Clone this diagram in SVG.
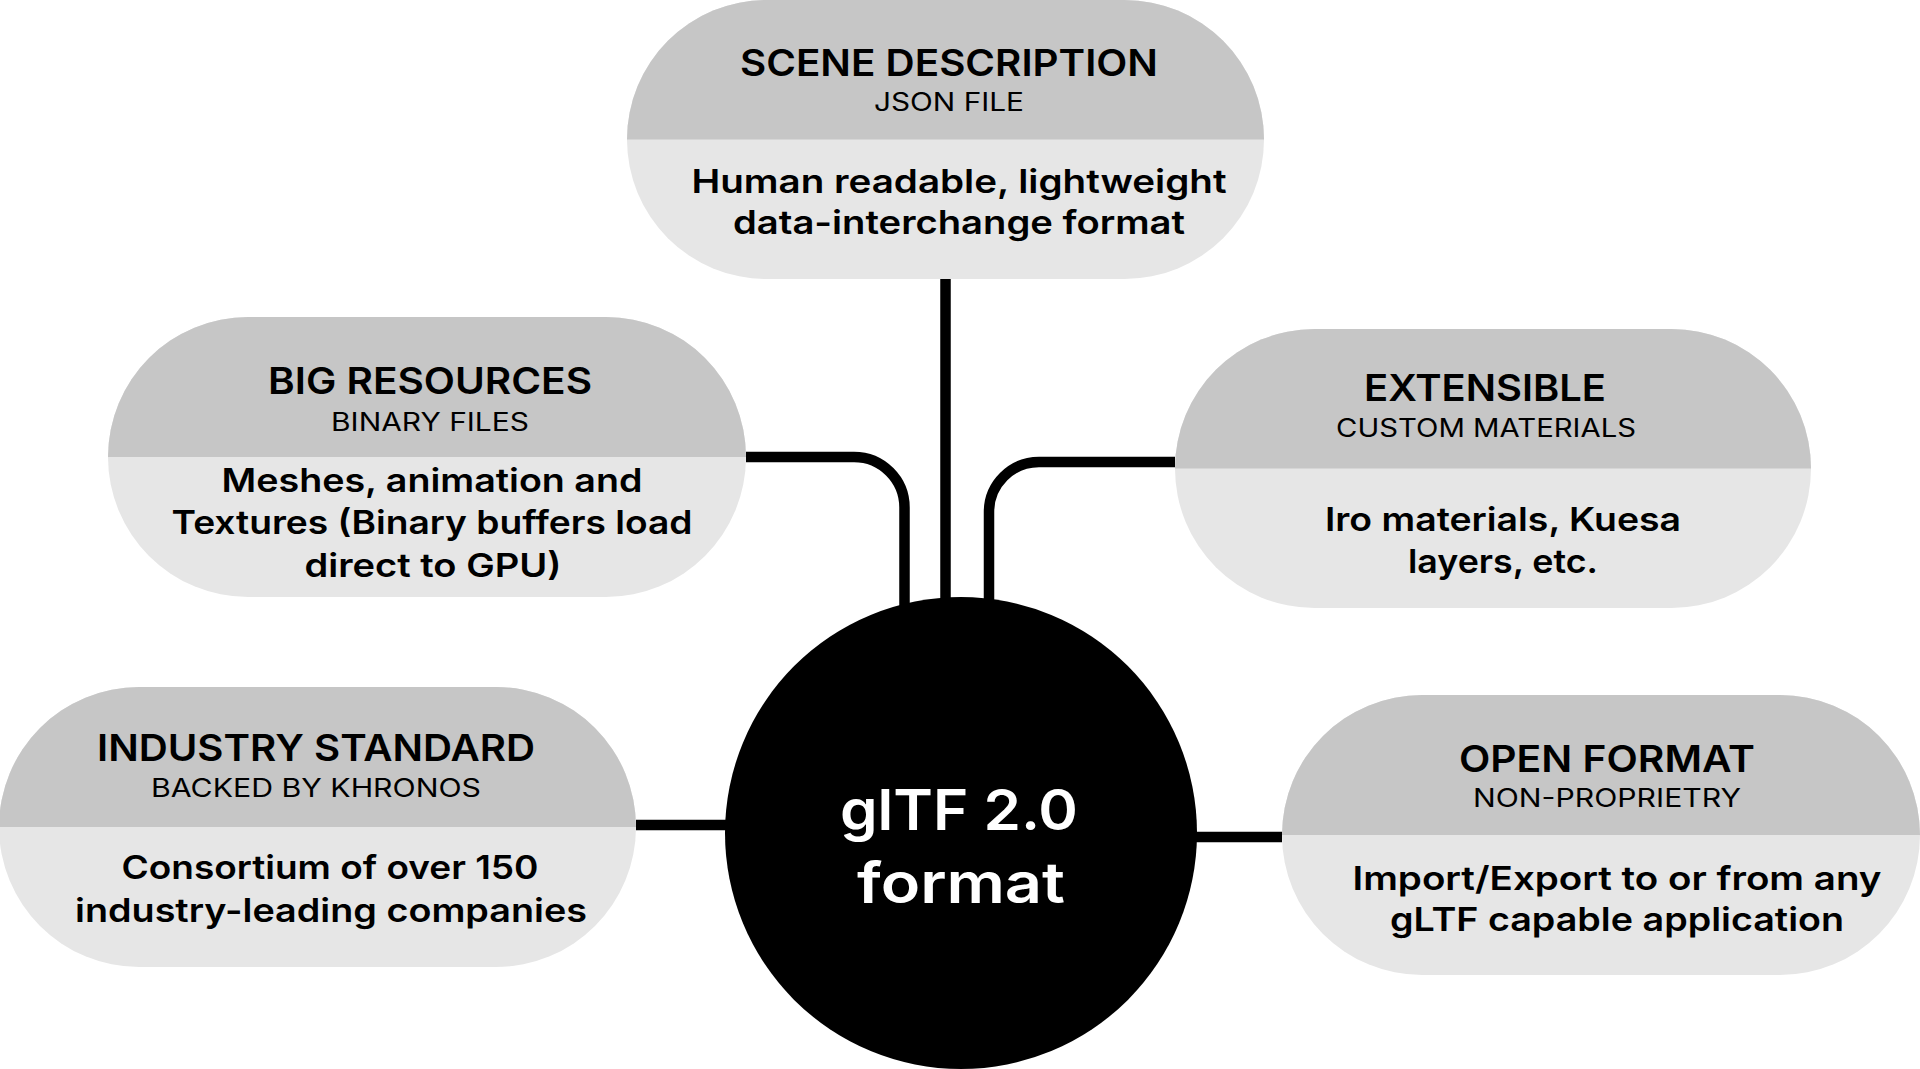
<svg xmlns="http://www.w3.org/2000/svg" width="1920" height="1069" viewBox="0 0 1920 1069">
<style>
  .bg{fill:#ffffff}
  .body{fill:#e6e6e6}
  .head{fill:#c6c6c6}
  text{font-family:Inter,"Noto Sans","Liberation Sans",sans-serif;fill:#000;text-anchor:middle}
  .t{font-size:37px;font-weight:600}
  .s{font-size:25px;font-weight:400}
  .b{font-size:33px;font-weight:600}
  .c{font-size:56px;font-weight:600;fill:#fff}
  .conn{fill:none;stroke:#000;stroke-width:10.5}
</style>
<rect class="bg" x="0" y="0" width="1920" height="1069"/>
<g id="connectors">
  <path class="conn" d="M945.5 279 V610"/>
  <path class="conn" d="M746 457 H854 A50.5 50.5 0 0 1 904.5 507.5 V615"/>
  <path class="conn" d="M1175 462 H1039 A50 50 0 0 0 989 512 V615"/>
  <path class="conn" d="M636 825 H735"/>
  <path class="conn" d="M1190 837 H1282"/>
</g>
<g id="scene-description">
  <rect class="body" x="627" y="0" width="637" height="279" rx="139.5"/>
  <path class="head" d="M627 139.5 A139.5 139.5 0 0 1 766.5 0 H1124.5 A139.5 139.5 0 0 1 1264 139.5 Z"/>
  <text class="t" x="949" y="76" textLength="418" lengthAdjust="spacingAndGlyphs">SCENE DESCRIPTION</text>
  <text class="s" x="949" y="111" textLength="150" lengthAdjust="spacingAndGlyphs">JSON FILE</text>
  <text class="b" x="959" y="193" textLength="535" lengthAdjust="spacingAndGlyphs">Human readable, lightweight</text>
  <text class="b" x="959" y="234" textLength="452" lengthAdjust="spacingAndGlyphs">data-interchange format</text>
</g>
<g id="big-resources">
  <rect class="body" x="108" y="317" width="638" height="280" rx="140"/>
  <path class="head" d="M108 457 A140 140 0 0 1 248 317 H606 A140 140 0 0 1 746 457 Z"/>
  <text class="t" x="430" y="394" textLength="324" lengthAdjust="spacingAndGlyphs">BIG RESOURCES</text>
  <text class="s" x="430" y="431" textLength="198" lengthAdjust="spacingAndGlyphs">BINARY FILES</text>
  <text class="b" x="432" y="492" textLength="421" lengthAdjust="spacingAndGlyphs">Meshes, animation and</text>
  <text class="b" x="432" y="534" textLength="521" lengthAdjust="spacingAndGlyphs">Textures (Binary buffers load</text>
  <text class="b" x="433" y="577" textLength="257" lengthAdjust="spacingAndGlyphs">direct to GPU)</text>
</g>
<g id="extensible">
  <rect class="body" x="1175" y="329" width="636" height="279" rx="139.5"/>
  <path class="head" d="M1175 468.5 A139.5 139.5 0 0 1 1314.5 329 H1671.5 A139.5 139.5 0 0 1 1811 468.5 Z"/>
  <text class="t" x="1485" y="401" textLength="242" lengthAdjust="spacingAndGlyphs">EXTENSIBLE</text>
  <text class="s" x="1486" y="437" textLength="300" lengthAdjust="spacingAndGlyphs">CUSTOM MATERIALS</text>
  <text class="b" x="1503" y="531" textLength="356" lengthAdjust="spacingAndGlyphs">Iro materials, Kuesa</text>
  <text class="b" x="1503" y="573" textLength="190" lengthAdjust="spacingAndGlyphs">layers, etc.</text>
</g>
<g id="industry-standard">
  <rect class="body" x="-1" y="687" width="637" height="280" rx="140"/>
  <path class="head" d="M-1 827 A140 140 0 0 1 139 687 H496 A140 140 0 0 1 636 827 Z"/>
  <text class="t" x="316" y="761" textLength="438" lengthAdjust="spacingAndGlyphs">INDUSTRY STANDARD</text>
  <text class="s" x="316" y="797" textLength="330" lengthAdjust="spacingAndGlyphs">BACKED BY KHRONOS</text>
  <text class="b" x="330" y="879" textLength="417" lengthAdjust="spacingAndGlyphs">Consortium of over 150</text>
  <text class="b" x="331" y="922" textLength="512" lengthAdjust="spacingAndGlyphs">industry-leading companies</text>
</g>
<g id="open-format">
  <rect class="body" x="1282" y="695" width="638" height="280" rx="140"/>
  <path class="head" d="M1282 835 A140 140 0 0 1 1422 695 H1780 A140 140 0 0 1 1920 835 Z"/>
  <text class="t" x="1607" y="772" textLength="296" lengthAdjust="spacingAndGlyphs">OPEN FORMAT</text>
  <text class="s" x="1607" y="807" textLength="268" lengthAdjust="spacingAndGlyphs">NON-PROPRIETRY</text>
  <text class="b" x="1617" y="890" textLength="529" lengthAdjust="spacingAndGlyphs">Import/Export to or from any</text>
  <text class="b" x="1617" y="931" textLength="454" lengthAdjust="spacingAndGlyphs">gLTF capable application</text>
</g>
<g id="gltf-center">
  <circle cx="961" cy="833" r="236" fill="#000"/>
  <text class="c" x="959" y="830" textLength="238" lengthAdjust="spacingAndGlyphs">glTF 2.0</text>
  <text class="c" x="961" y="903" textLength="208" lengthAdjust="spacingAndGlyphs">format</text>
</g>
</svg>
